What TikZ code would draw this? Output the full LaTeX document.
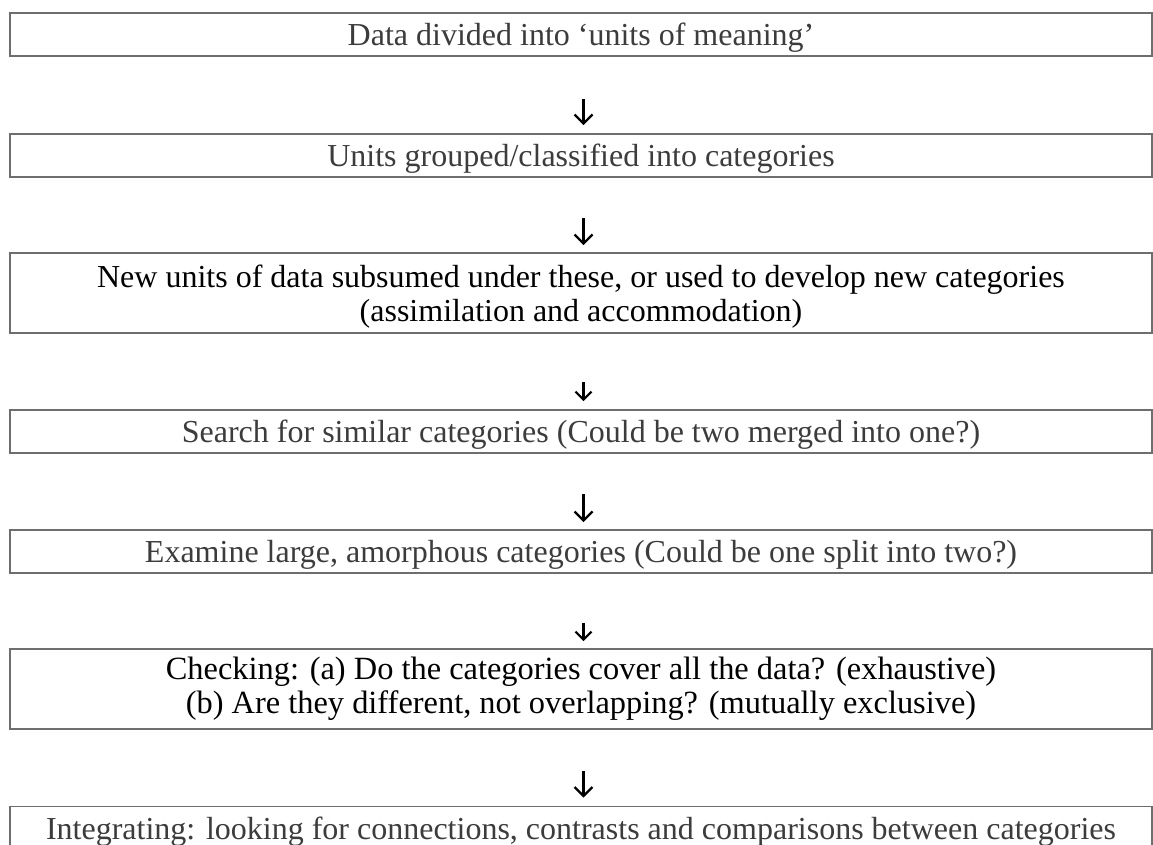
\documentclass[tikz,border=0pt]{standalone}
\usepackage{fontspec}
\setmainfont{Liberation Serif}
\usetikzlibrary{arrows.meta}
\definecolor{boxline}{HTML}{6E6E6E}
\definecolor{greytext}{HTML}{3C3C3C}
\tikzset{
  stepbox/.style={draw=boxline, line width=1.6pt, minimum width=1142pt, inner sep=0pt,
    align=center, font=\fontsize{32}{34}\selectfont, text=greytext, text depth=0pt},
  darkbox/.style={stepbox, text=black},
  longarrow/.style={line width=2.4pt, -{Straight Barb[length=9pt,width=18pt,line width=2.4pt]}},
  shortarrow/.style={line width=2.2pt, -{Straight Barb[length=8pt,width=16pt,line width=2.2pt]}}
}
\begin{document}
\begin{tikzpicture}[x=1pt,y=-1pt]
\useasboundingbox (0,0) rectangle (1153,845);
\fill[white] (0,0) rectangle (1153,845);
\node[stepbox, minimum height=43pt] (b1) at (581,34.5) {Data divided into ‘units of meaning’};
\node[stepbox, minimum height=43pt] (b2) at (581,155.5) {Units grouped/classified into categories};
\node[darkbox, minimum height=80pt] (b3) at (581,293) {New units of data subsumed under these, or used to develop new categories\\(assimilation and accommodation)};
\node[stepbox, minimum height=43pt] (b4) at (581,431.5) {Search for similar categories (Could be two merged into one?)};
\node[stepbox, minimum height=43pt] (b5) at (581,551.5) {Examine large, amorphous categories (Could be one split into two?)};
\node[darkbox, minimum height=80pt, text depth=, font=\fontsize{32.4}{34}\selectfont] (b6) at (581,689) {Checking: (a) Do the categories cover all the data? (exhaustive)\\(b) Are they different, not overlapping? (mutually exclusive)};
\node[stepbox, minimum height=43pt] (b7) at (581,828) {Integrating: looking for connections, contrasts and comparisons between categories};
\draw[longarrow, shorten <=42pt, shorten >=8pt] ([xshift=2.5pt]b1.south) -- ([xshift=2.5pt]b2.north);
\draw[longarrow, shorten <=40pt, shorten >=7pt] ([xshift=2.5pt]b2.south) -- ([xshift=2.5pt]b3.north);
\draw[shortarrow, shorten <=48pt, shorten >=8pt] ([xshift=2.5pt]b3.south) -- ([xshift=2.5pt]b4.north);
\draw[longarrow, shorten <=40pt, shorten >=7pt] ([xshift=2.5pt]b4.south) -- ([xshift=2.5pt]b5.north);
\draw[shortarrow, shorten <=49pt, shorten >=7pt] ([xshift=2.5pt]b5.south) -- ([xshift=2.5pt]b6.north);
\draw[longarrow, shorten <=41pt, shorten >=8pt] ([xshift=2.5pt]b6.south) -- ([xshift=2.5pt]b7.north);
\end{tikzpicture}
\end{document}
